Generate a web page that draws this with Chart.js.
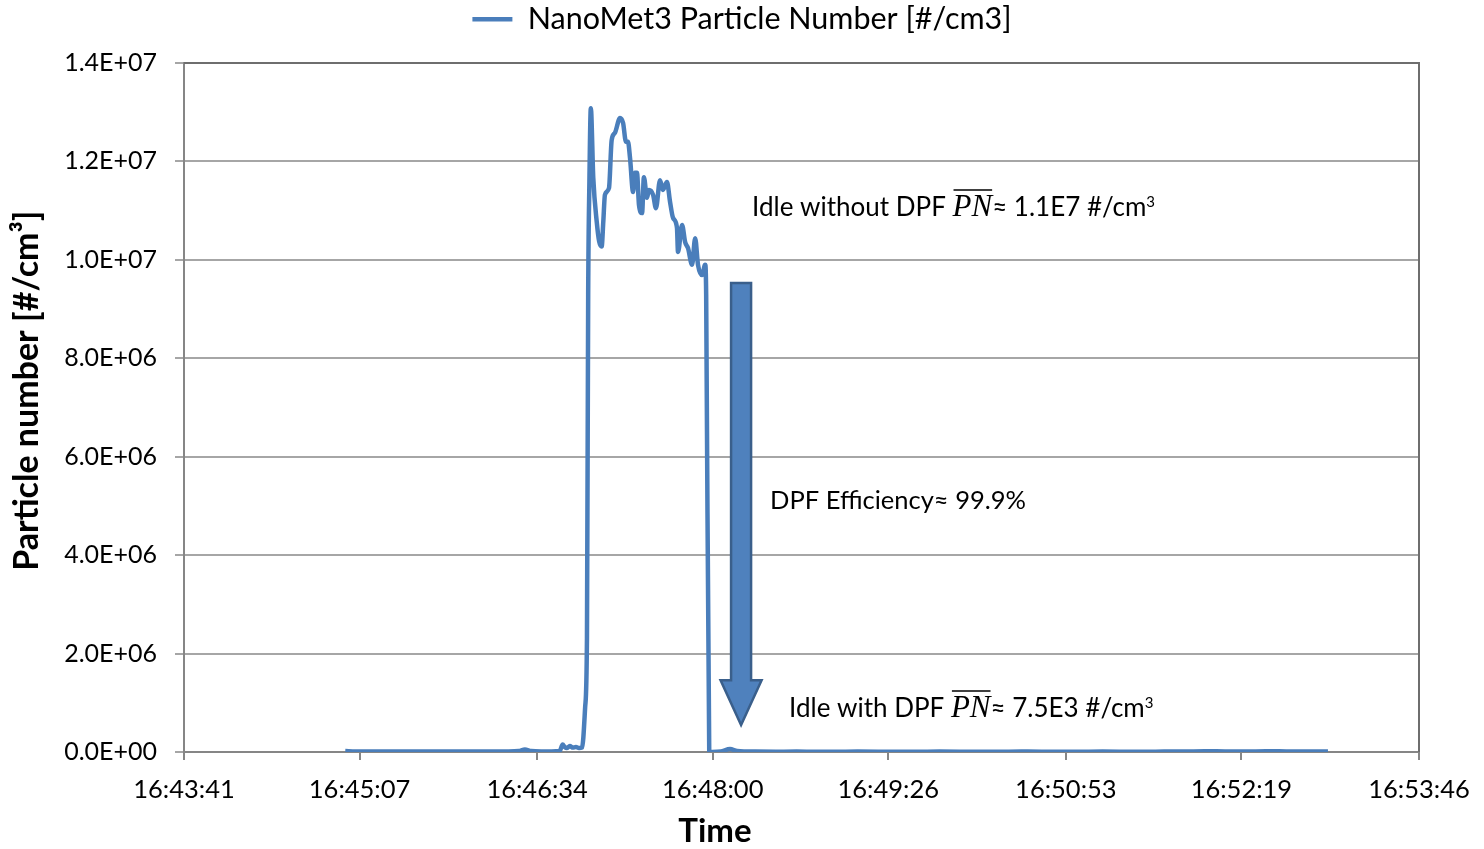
<!DOCTYPE html>
<html>
<head>
<meta charset="utf-8">
<script src="https://cdn.jsdelivr.net/npm/chart.js@4.4.1/dist/chart.umd.min.js"></script>
<style>
    html, body { margin: 0; padding: 0; background: #fff; }
    #wrap { width: 1484px; height: 849px; }
</style>
</head>
<body>
<div id="wrap"><canvas id="pnChart" width="1484" height="849"></canvas></div>
<script>
// x tick labels (clock time) - the axis runs from the first to the last one
const timeTickLabels = ['16:43:41', '16:45:07', '16:46:34', '16:48:00', '16:49:26', '16:50:53', '16:52:19', '16:53:46'];
const yTickValues = [0, 2e6, 4e6, 6e6, 8e6, 1.0e7, 1.2e7, 1.4e7];

// seconds after 16:43:41
const timeSec = [
    79, 84, 89, 94, 99, 104, 109, 114, 119, 124, 129, 134, 139, 144, 149, 154, 159, 164, 167, 170,
    175, 180, 184, 185.5, 186.5, 187.5, 189, 190.5, 192, 193.5, 195, 196.5, 197.4, 198.0, 198.6, 199.3,
    200.5, 202.2, 203.4, 204.6, 205.4, 206.2, 208.2, 209.5, 211.1, 213.6, 215.1, 216.5, 217.5, 218.5,
    220.0, 220.9, 221.9, 222.9, 224.4, 225.3, 226.8, 227.8, 229.8, 231.2, 233.2, 234.6, 236.6, 238.1,
    239.6, 241.5, 242.0, 244.0, 245.5, 246.9, 248.9, 250.4, 251.8, 253.8, 255.3, 255.8, 257.3,
    258.7, 263, 267.5, 271, 280, 290, 300, 310, 320, 330, 340, 350, 360, 370, 380, 390, 400, 410,
    420, 430, 440, 450, 460, 470, 480, 490, 500, 510, 520, 530, 540, 550, 560.4
];

// NanoMet3 particle number [#/cm3]
const particleNumber = [
    2.0e4, 1.0e4, 1.0e4, 1.0e4, 1.0e4, 1.0e4, 1.0e4, 1.0e4, 1.0e4, 1.0e4, 1.0e4, 1.0e4, 1.0e4, 1.0e4, 1.0e4, 1.0e4, 1.0e4, 2.0e4, 5.0e4, 2.0e4,
    1.0e4, 1.0e4, 2.0e4, 1.5e5, 1.0e5, 8.0e4, 1.2e5, 9.0e4, 1.0e5, 8.0e4, 9.0e4, 9.0e5, 2.3e6, 9.3e6, 1.16e7, 1.308e7,
    1.166e7, 1.077e7, 1.037e7, 1.027e7, 1.077e7, 1.132e7, 1.146e7, 1.243e7, 1.258e7, 1.288e7, 1.278e7, 1.240e7, 1.240e7, 1.207e7,
    1.138e7, 1.177e7, 1.177e7, 1.111e7, 1.095e7, 1.168e7, 1.126e7, 1.142e7, 1.132e7, 1.105e7, 1.162e7, 1.142e7, 1.158e7, 1.118e7,
    1.085e7, 1.065e7, 1.016e7, 1.071e7, 1.036e7, 1.024e7, 9.90e6, 1.044e7, 9.90e6, 9.69e6, 9.90e6, 9.29e6, 2.0e4,
    0, 1.0e4, 6.0e4, 2.0e4, 8.0e3, 7.0e3, 8.0e3, 6.0e3, 7.0e3, 8.0e3, 7.0e3, 6.0e3, 7.0e3, 8.0e3, 7.0e3, 6.0e3, 7.0e3, 8.0e3,
    7.0e3, 6.0e3, 7.0e3, 8.0e3, 7.0e3, 6.0e3, 8.0e3, 9.0e3, 1.5e4, 1.2e4, 1.0e4, 1.5e4, 1.2e4, 1.0e4, 8.0e3
];

const FONT = 'Lato';

function clockToSec(s) {
    const p = s.split(':').map(Number);
    return p[0] * 3600 + p[1] * 60 + p[2];
}
const tickSec = timeTickLabels.map(t => clockToSec(t) - clockToSec(timeTickLabels[0]));

function sciLabel(v) {
    const parts = v.toExponential(1).split('e');
    const exp = parseInt(parts[1], 10);
    return parts[0] + 'E' + (exp < 0 ? '-' : '+') + String(Math.abs(exp)).padStart(2, '0');
}

// draw a line of text made of pieces (normal, italic overlined, superscript)
function drawRich(ctx, x, y, pieces) {
    pieces.forEach(p => {
        ctx.font = p.font;
        const w = ctx.measureText(p.text).width;
        const yy = p.sup ? y - p.sup : y;
        ctx.fillText(p.text, x, yy);
        if (p.overline) {
            ctx.beginPath();
            ctx.moveTo(x + 1, y - p.overline);
            ctx.lineTo(x + w, y - p.overline);
            ctx.lineWidth = 1.5;
            ctx.strokeStyle = '#000';
            ctx.stroke();
        }
        x += w;
    });
}

const legendHeight = {
    id: 'legendHeight',
    beforeInit(chart) {
        if (!chart.legend) return;
        const fit = chart.legend.fit;
        chart.legend.fit = function() {
            fit.bind(chart.legend)();
            this.height = 63;
        };
    }
};

const plotFrame = {
    id: 'plotFrame',
    beforeDatasetsDraw(chart) {
        const {ctx, chartArea: a} = chart;
        ctx.save();
        ctx.strokeStyle = '#6e6e6e';
        ctx.lineWidth = 2;
        ctx.beginPath();
        ctx.moveTo(a.left, a.top);
        ctx.lineTo(a.right, a.top);
        ctx.lineTo(a.right, a.bottom);
        ctx.stroke();
        ctx.restore();
    }
};

const notes = {
    id: 'notes',
    afterDatasetsDraw(chart) {
        const {ctx, scales: {x, y}} = chart;
        ctx.save();

        // arrow
        const ax = x.getPixelForValue(272.9);
        const top = y.getPixelForValue(9.53e6);
        const neck = y.getPixelForValue(1.46e6);
        const tip = y.getPixelForValue(0.55e6);
        ctx.beginPath();
        ctx.moveTo(ax - 10, top);
        ctx.lineTo(ax + 10, top);
        ctx.lineTo(ax + 10, neck);
        ctx.lineTo(ax + 20.5, neck);
        ctx.lineTo(ax, tip);
        ctx.lineTo(ax - 20.5, neck);
        ctx.lineTo(ax - 10, neck);
        ctx.closePath();
        ctx.fillStyle = '#4F81BD';
        ctx.fill();
        ctx.strokeStyle = '#3A5F8B';
        ctx.lineWidth = 2.5;
        ctx.stroke();

        ctx.fillStyle = '#000';
        ctx.textBaseline = 'alphabetic';
        ctx.textAlign = 'left';
        const sans = '26px ' + FONT;
        const serif = 'italic 31px "Liberation Serif"';
        const sup = '15px ' + FONT;

        drawRich(ctx, x.getPixelForValue(278.3), y.getPixelForValue(1.089e7), [
            {text: 'Idle without DPF ', font: sans},
            {text: 'PN', font: serif, overline: 26},
            {text: '\u2248 1.1E7 #/cm', font: sans},
            {text: '3', font: sup, sup: 9}
        ]);
        drawRich(ctx, x.getPixelForValue(287.1), y.getPixelForValue(4.94e6), [
            {text: 'DPF Efficiency\u2248 99.9%', font: '25.5px ' + FONT}
        ]);
        drawRich(ctx, x.getPixelForValue(296.4), y.getPixelForValue(0.71e6), [
            {text: 'Idle with DPF ', font: sans},
            {text: 'PN', font: serif, overline: 26},
            {text: '\u2248 7.5E3 #/cm', font: sans},
            {text: '3', font: sup, sup: 9}
        ]);
        ctx.restore();
    }
};

const ctx = document.getElementById('pnChart');

new Chart(ctx, {
    type: 'line',

    plugins: [legendHeight, plotFrame, notes],

    data: {
        datasets: [{
            label: 'NanoMet3 Particle Number [#/cm3]',
            data: timeSec.map((t, i) => ({x: t, y: particleNumber[i]})),
            borderColor: '#4A7EBB',
            backgroundColor: '#4A7EBB',
            borderWidth: 4.5,
            pointRadius: 0,
            cubicInterpolationMode: 'monotone',
            fill: false
        }]
    },

    options: {
        responsive: false,
        animation: false,
        devicePixelRatio: 1,

        layout: {
            padding: 0
        },

        plugins: {
            legend: {
                display: true,
                position: 'top',
                labels: {
                    usePointStyle: true,
                    pointStyle: 'line',
                    pointStyleWidth: 40,
                    padding: 4,
                    color: '#000',
                    font: {family: FONT, size: 30.5}
                }
            },
            tooltip: {enabled: false}
        },

        scales: {
            x: {
                type: 'linear',
                min: tickSec[0],
                max: tickSec[tickSec.length - 1],
                afterBuildTicks: s => { s.ticks = tickSec.map(v => ({value: v})); },
                afterFit: s => {
                    s.height = 97;
                    s.paddingRight = 65;
                },
                grid: {
                    drawOnChartArea: false,
                    drawTicks: true,
                    tickLength: 8,
                    color: '#868686',
                    lineWidth: 2
                },
                border: {color: '#868686', width: 2},
                ticks: {
                    autoSkip: false,
                    maxRotation: 0,
                    padding: 14,
                    color: '#000',
                    font: {family: FONT, size: 25.5},
                    callback: (v, i) => timeTickLabels[i]
                },
                title: {
                    display: true,
                    text: 'Time' + '\u2003'.repeat(7),
                    color: '#000',
                    font: {family: FONT, size: 33, weight: 'bold', lineHeight: 1},
                    padding: {top: 0, bottom: 1}
                }
            },
            y: {
                min: yTickValues[0],
                max: yTickValues[yTickValues.length - 1],
                afterBuildTicks: s => { s.ticks = yTickValues.map(v => ({value: v})); },
                afterFit: s => { s.width = 184; },
                grid: {
                    color: '#a6a6a6',
                    lineWidth: 2,
                    drawTicks: true,
                    tickLength: 9
                },
                border: {color: '#868686', width: 2},
                ticks: {
                    padding: 18,
                    color: '#000',
                    font: {family: FONT, size: 25},
                    callback: v => sciLabel(v)
                },
                title: {
                    display: true,
                    text: '\u2003 Particle number [#/cm\u00B3]',
                    color: '#000',
                    font: {family: FONT, size: 34, weight: 'bold', lineHeight: 1.2},
                    padding: {top: 7, bottom: 0}
                }
            }
        }
    }
});
</script>
</body>
</html>
